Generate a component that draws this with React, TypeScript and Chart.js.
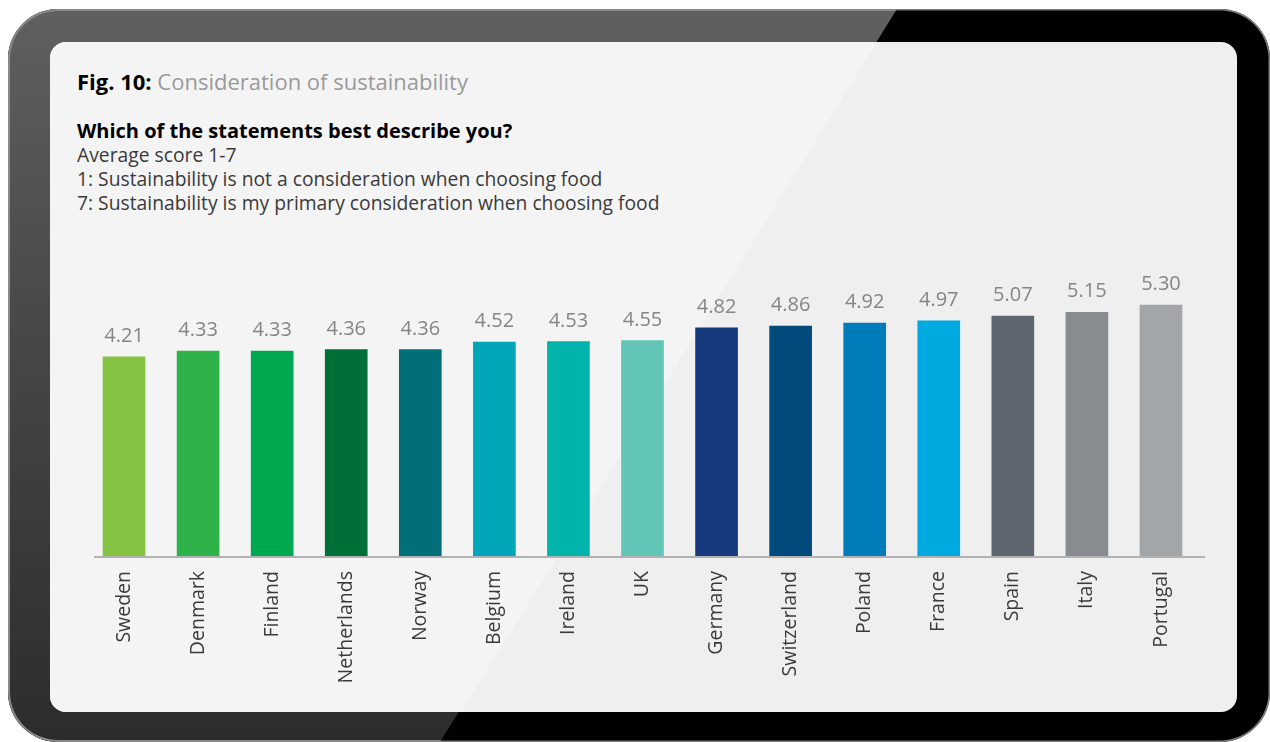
import React, { useEffect, useRef } from "react";
import { Chart, registerables } from "chart.js";

Chart.register(...registerables);

const countries = [
  "Sweden", "Denmark", "Finland", "Netherlands", "Norway", "Belgium", "Ireland", "UK",
  "Germany", "Switzerland", "Poland", "France", "Spain", "Italy", "Portugal",
];
const scores = [4.21, 4.33, 4.33, 4.36, 4.36, 4.52, 4.53, 4.55, 4.82, 4.86, 4.92, 4.97, 5.07, 5.15, 5.3];
const barColors = [
  "#84c341", "#2db34a", "#00a94f", "#006f37", "#006f79", "#00a6b8", "#00b4ac", "#63c5b5",
  "#173a7e", "#004a7c", "#007cba", "#00a9e0", "#5f6670", "#888b8f", "#a3a6a9",
];

const titleBold = "Fig. 10:";
const titleLight = "Consideration of sustainability";
const question = "Which of the statements best describe you?";
const notes = [
  "Average score 1-7",
  "1: Sustainability is not a consideration when choosing food",
  "7: Sustainability is my primary consideration when choosing food",
];

const FONT = "'Open Sans', 'Noto Sans', sans-serif";

const valueLabels = {
  id: "valueLabels",
  afterDatasetsDraw(chart: any) {
    const ctx = chart.ctx;
    const meta = chart.getDatasetMeta(0);
    ctx.save();
    ctx.font = `400 20px ${FONT}`;
    ctx.fillStyle = "#858585";
    ctx.textAlign = "center";
    ctx.textBaseline = "alphabetic";
    meta.data.forEach((bar: any, i: number) => {
      ctx.fillText(scores[i].toFixed(2), bar.x, bar.y - 15);
    });
    ctx.restore();
  },
};

const baseLine = {
  id: "baseLine",
  afterDatasetsDraw(chart: any) {
    const { ctx, chartArea } = chart;
    ctx.save();
    ctx.strokeStyle = "#b2b2b2";
    ctx.lineWidth = 2;
    ctx.beginPath();
    ctx.moveTo(chartArea.left + 7, chartArea.bottom + 1);
    ctx.lineTo(chartArea.right + 7, chartArea.bottom + 1);
    ctx.stroke();
    ctx.restore();
  },
};

export default function App() {
  const ref = useRef<HTMLCanvasElement | null>(null);

  useEffect(() => {
    if (!ref.current) return;
    const chart = new Chart(ref.current, {
      type: "bar",
      data: {
        labels: countries,
        datasets: [
          {
            data: scores,
            backgroundColor: barColors,
            barThickness: 42,
            borderWidth: 0,
          },
        ],
      },
      options: {
        animation: false,
        responsive: false,
        maintainAspectRatio: false,
        layout: { padding: { top: 40, right: 14, left: 0, bottom: 0 } },
        plugins: {
          legend: { display: false },
          tooltip: { enabled: false },
          title: { display: false },
        },
        scales: {
          y: { display: false, min: 0, max: 6 },
          x: {
            grid: { display: false, drawTicks: false },
            border: { display: false },
            ticks: {
              minRotation: 90,
              maxRotation: 90,
              padding: 15,
              color: "#3a3a3a",
              font: { family: FONT, size: 19.5, weight: 400 as any },
              autoSkip: false,
            },
            afterFit(scale: any) {
              scale.height = 134;
            },
          },
        },
      },
      plugins: [valueLabels, baseLine],
    });
    return () => chart.destroy();
  }, []);

  return (
    <div
      style={{
        position: "fixed",
        left: 0,
        top: 0,
        width: 1270,
        height: 742,
        overflow: "hidden",
        background: "#ffffff",
        fontFamily: FONT,
      }}
    >
      {/* tablet frame */}
      <div
        style={{
          position: "absolute",
          left: 8,
          top: 9,
          width: 1262,
          height: 733,
          borderRadius: 50,
          background: "#000",
          overflow: "hidden",
          boxShadow: "inset 0 0 0 1.5px #7a7a7a",
        }}
      >
        <div
          style={{
            position: "absolute",
            inset: 0,
            background: "linear-gradient(180deg, #606060 0%, #4a4a4a 40%, #2c2c2c 100%)",
            clipPath: "polygon(0 0, 889px 0, 432px 733px, 0 733px)",
            borderRadius: 50,
            boxShadow: "inset 0 0 0 2px #8a8a8a",
          }}
        />
      </div>
      {/* screen */}
      <div
        style={{
          position: "absolute",
          left: 50,
          top: 42,
          width: 1187,
          height: 670,
          borderRadius: 16,
          background: "#efefef",
          overflow: "hidden",
        }}
      >
        <div
          style={{
            position: "absolute",
            inset: 0,
            background: "#f4f4f4",
            clipPath: "polygon(0 0, 827px 0, 411px 670px, 0 670px)",
          }}
        />
      </div>
      {/* texts */}
      <div
        style={{
          position: "absolute",
          left: 77,
          top: 67.5,
          fontSize: 22,
          lineHeight: "26px",
          whiteSpace: "nowrap",
        }}
      >
        <span style={{ fontWeight: 700, color: "#000" }}>{titleBold}</span>{" "}
        <span style={{ fontWeight: 400, color: "#9a9a9a" }}>{titleLight}</span>
      </div>
      <div
        style={{
          position: "absolute",
          left: 77,
          top: 118.5,
          lineHeight: "24.3px",
          whiteSpace: "nowrap",
          color: "#3a3a3a",
        }}
      >
        <div style={{ fontSize: 20, fontWeight: 700, color: "#000" }}>{question}</div>
        {notes.map((n) => (
          <div key={n} style={{ fontSize: 19.3, fontWeight: 400 }}>
            {n}
          </div>
        ))}
      </div>
      <canvas
        ref={ref}
        width={1125}
        height={458}
        style={{ position: "absolute", left: 87, top: 232, width: 1125, height: 458 }}
      />
    </div>
  );
}
